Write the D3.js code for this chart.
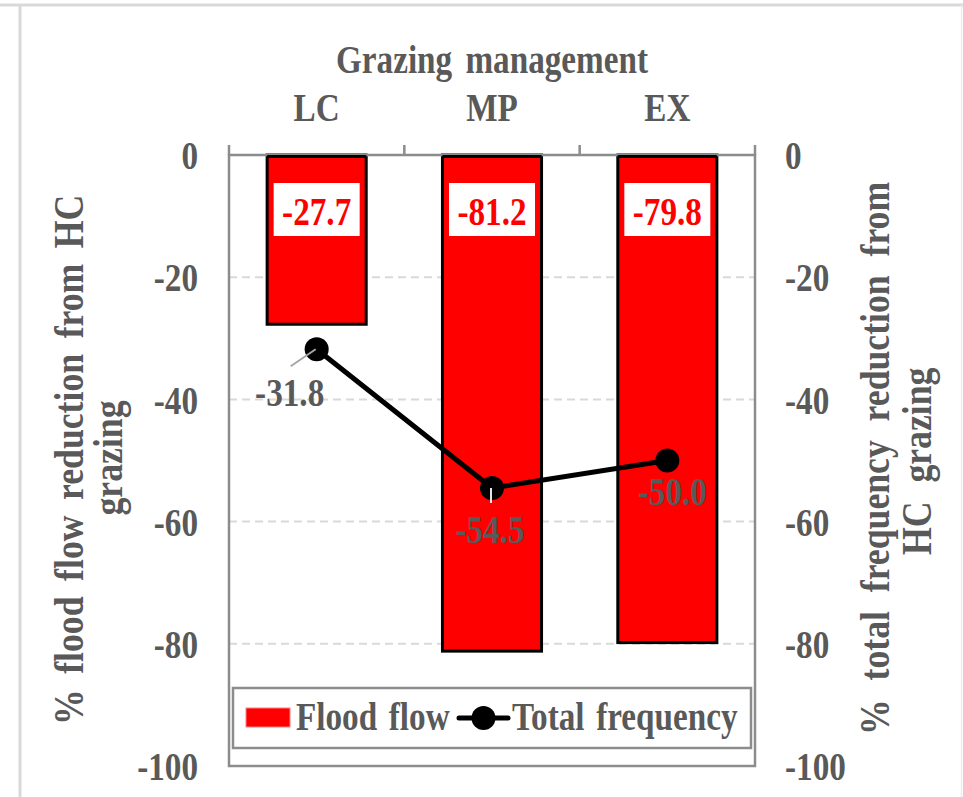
<!DOCTYPE html>
<html>
<head>
<meta charset="utf-8">
<script src="https://cdn.jsdelivr.net/npm/d3@7"></script>
<style>
  body { margin: 0; background: #fff; }
  text { font-family: "Liberation Serif", "Times New Roman", serif; font-weight: bold; }
</style>
</head>
<body>
<svg id="chart" width="963" height="797"></svg>
<script>
// ---- data ----
const categories = ["LC", "MP", "EX"];
const floodFlow = [-27.7, -81.2, -79.8];        // % flood flow reduction (bars, left axis)
const totalFrequency = [-31.8, -54.5, -50.0];   // % total frequency reduction (line, right axis)
const yTicks = [0, -20, -40, -60, -80, -100];
const xTitle = "Grazing management";
const leftTitle = ["% flood flow reduction from HC", "grazing"];
const rightTitle = ["% total frequency reduction from", "HC grazing"];
const legendLabels = ["Flood flow", "Total frequency"];

// ---- layout / style ----
const W = 963, H = 797;
const plot = { left: 229, right: 755, top: 155, bottom: 766 };
const SX = 0.83;            // horizontal text compression
const FONT = 40;
const TITLE_FONT = 43;
const GREY_TEXT = "#595959";
const RED = "#ff0000";
// manual offsets of the line's value labels (dx, dy relative to the point)
const lineLabelOffset = [[-27, 57], [-2, 55], [5, 44]];
const leaderEnd = [[-26, 17], [-1, 15], null];

const svg = d3.select("#chart");

const x = d3.scaleBand()
  .domain(categories)
  .range([plot.left, plot.right])
  .paddingInner(0.435)
  .paddingOuter(0.2175);

const yL = d3.scaleLinear().domain([-100, 0]).range([plot.bottom, plot.top]);
const yR = d3.scaleLinear().domain([-100, 0]).range([plot.bottom, plot.top]);

// places a text element with horizontal compression
function label(g, str, px, py, opts = {}) {
  const t = g.append("text")
    .attr("transform", `translate(${px},${py}) rotate(${opts.rotate || 0}) scale(${SX},1)`)
    .attr("text-anchor", opts.anchor || "middle")
    .attr("font-size", opts.size || FONT)
    .attr("fill", opts.fill || GREY_TEXT)
    .text(str);
  if (opts.ws) t.style("word-spacing", opts.ws + "px");
  if (opts.dy) t.attr("dy", opts.dy);
  return t;
}

// ---- outer frame ----
svg.append("line").attr("x1", 0).attr("x2", W).attr("y1", 5).attr("y2", 5)
  .attr("stroke", "#d9d9d9").attr("stroke-width", 3);
svg.append("line").attr("x1", 20).attr("x2", 20).attr("y1", 5).attr("y2", H)
  .attr("stroke", "#d9d9d9").attr("stroke-width", 3);
svg.append("line").attr("x1", 961.5).attr("x2", 961.5).attr("y1", 5).attr("y2", H)
  .attr("stroke", "#ececec").attr("stroke-width", 1.5);

// ---- gridlines ----
svg.append("g").selectAll("line")
  .data(yTicks.filter(v => v !== 0 && v !== -100))
  .join("line")
  .attr("x1", plot.left).attr("x2", plot.right)
  .attr("y1", d => yL(d)).attr("y2", d => yL(d))
  .attr("stroke", "#d9d9d9").attr("stroke-width", 2)
  .attr("stroke-dasharray", "8,5");

// ---- bars ----
svg.append("g").selectAll("rect")
  .data(categories)
  .join("rect")
  .attr("x", d => x(d))
  .attr("width", x.bandwidth())
  .attr("y", yL(0))
  .attr("height", (d, i) => yL(floodFlow[i]) - yL(0))
  .attr("fill", RED)
  .attr("stroke", "#000")
  .attr("stroke-width", 3);

// ---- plot frame and category axis ----
svg.append("rect")
  .attr("x", plot.left).attr("y", plot.top)
  .attr("width", plot.right - plot.left).attr("height", plot.bottom - plot.top)
  .attr("fill", "none").attr("stroke", "#8c8c8c").attr("stroke-width", 2.5);
const sep = [plot.left, ...categories.slice(1).map(c => x(c) - x.step() * x.paddingInner() / 2), plot.right];
svg.append("g").selectAll("line").data(sep).join("line")
  .attr("x1", d => d).attr("x2", d => d)
  .attr("y1", plot.top - 10).attr("y2", plot.top)
  .attr("stroke", "#8c8c8c").attr("stroke-width", 2.5);

// redraw bar tops over the axis line
svg.append("g").selectAll("rect")
  .data(categories)
  .join("rect")
  .attr("x", d => x(d))
  .attr("width", x.bandwidth())
  .attr("y", yL(0))
  .attr("height", 3)
  .attr("fill", "#000");

// ---- bar value labels (white boxes) ----
const barLab = svg.append("g");
categories.forEach((c, i) => {
  const cx = x(c) + x.bandwidth() / 2;
  barLab.append("rect")
    .attr("x", cx - 43).attr("y", yL(0) + 28)
    .attr("width", 86).attr("height", 53)
    .attr("fill", "#fff");
  label(barLab, floodFlow[i].toFixed(1), cx, yL(0) + 70, { fill: RED });
});

// ---- line series ----
const pts = categories.map((c, i) => [x(c) + x.bandwidth() / 2, yR(totalFrequency[i])]);
svg.append("path")
  .attr("d", d3.line()(pts))
  .attr("fill", "none").attr("stroke", "#000").attr("stroke-width", 5)
  .attr("stroke-linejoin", "round");
svg.append("g").selectAll("circle").data(pts).join("circle")
  .attr("cx", d => d[0]).attr("cy", d => d[1]).attr("r", 12).attr("fill", "#000");

// leader lines and value labels
const leadColors = ["#a6a6a6", "#e6e6e6"];
pts.forEach((p, i) => {
  if (leaderEnd[i]) {
    svg.append("line")
      .attr("x1", p[0] - 1).attr("y1", p[1])
      .attr("x2", p[0] + leaderEnd[i][0]).attr("y2", p[1] + leaderEnd[i][1])
      .attr("stroke", leadColors[i]).attr("stroke-width", 2);
  }
  label(svg, totalFrequency[i].toFixed(1), p[0] + lineLabelOffset[i][0], p[1] + lineLabelOffset[i][1]);
});

// ---- y axes ----
const axL = svg.append("g").attr("transform", `translate(${plot.left},0)`)
  .call(d3.axisLeft(yL).tickValues(yTicks).tickSize(0).tickPadding(31).tickFormat(d => String(d)));
const axR = svg.append("g").attr("transform", `translate(${plot.right},0)`)
  .call(d3.axisRight(yR).tickValues(yTicks).tickSize(0).tickPadding(30).tickFormat(d => String(d)));
[axL, axR].forEach(ax => {
  ax.select(".domain").remove();
  ax.selectAll("text").each(function () {
    const t = d3.select(this);
    const tx = +t.attr("x");
    t.attr("x", null)
      .attr("transform", `translate(${tx},0) scale(${SX},1)`)
      .attr("dy", "0.34em")
      .attr("font-size", FONT)
      .attr("font-family", null)
      .attr("fill", GREY_TEXT);
  });
});

// ---- titles ----
label(svg, xTitle, (plot.left + plot.right) / 2, 73, { ws: 6 });
categories.forEach(c => label(svg, c, x(c) + x.bandwidth() / 2, 121));
label(svg, leftTitle[0], 83, 725, { rotate: -90, anchor: "start", ws: 8, size: TITLE_FONT });
label(svg, leftTitle[1], 122, 458, { rotate: -90, size: TITLE_FONT });
label(svg, rightTitle[0], 889, 735, { rotate: -90, anchor: "start", ws: 12, size: TITLE_FONT });
label(svg, rightTitle[1], 931, 555, { rotate: -90, anchor: "start", ws: 12, size: TITLE_FONT });

// ---- legend ----
const lg = svg.append("g");
lg.append("rect").attr("x", 233).attr("y", 688).attr("width", 518).attr("height", 60)
  .attr("fill", "#fff").attr("stroke", "#8c8c8c").attr("stroke-width", 2.5);
lg.append("rect").attr("x", 246).attr("y", 708).attr("width", 44).attr("height", 19)
  .attr("fill", RED).attr("stroke", "#ff8080").attr("stroke-width", 1);
label(lg, legendLabels[0], 296, 730, { anchor: "start", ws: 4 });
lg.append("line").attr("x1", 459).attr("x2", 508).attr("y1", 718).attr("y2", 718)
  .attr("stroke", "#000").attr("stroke-width", 5).attr("stroke-linecap", "round");
lg.append("circle").attr("cx", 483.5).attr("cy", 718).attr("r", 12).attr("fill", "#000");
label(lg, legendLabels[1], 512, 730, { anchor: "start", ws: 4 });
</script>
</body>
</html>
